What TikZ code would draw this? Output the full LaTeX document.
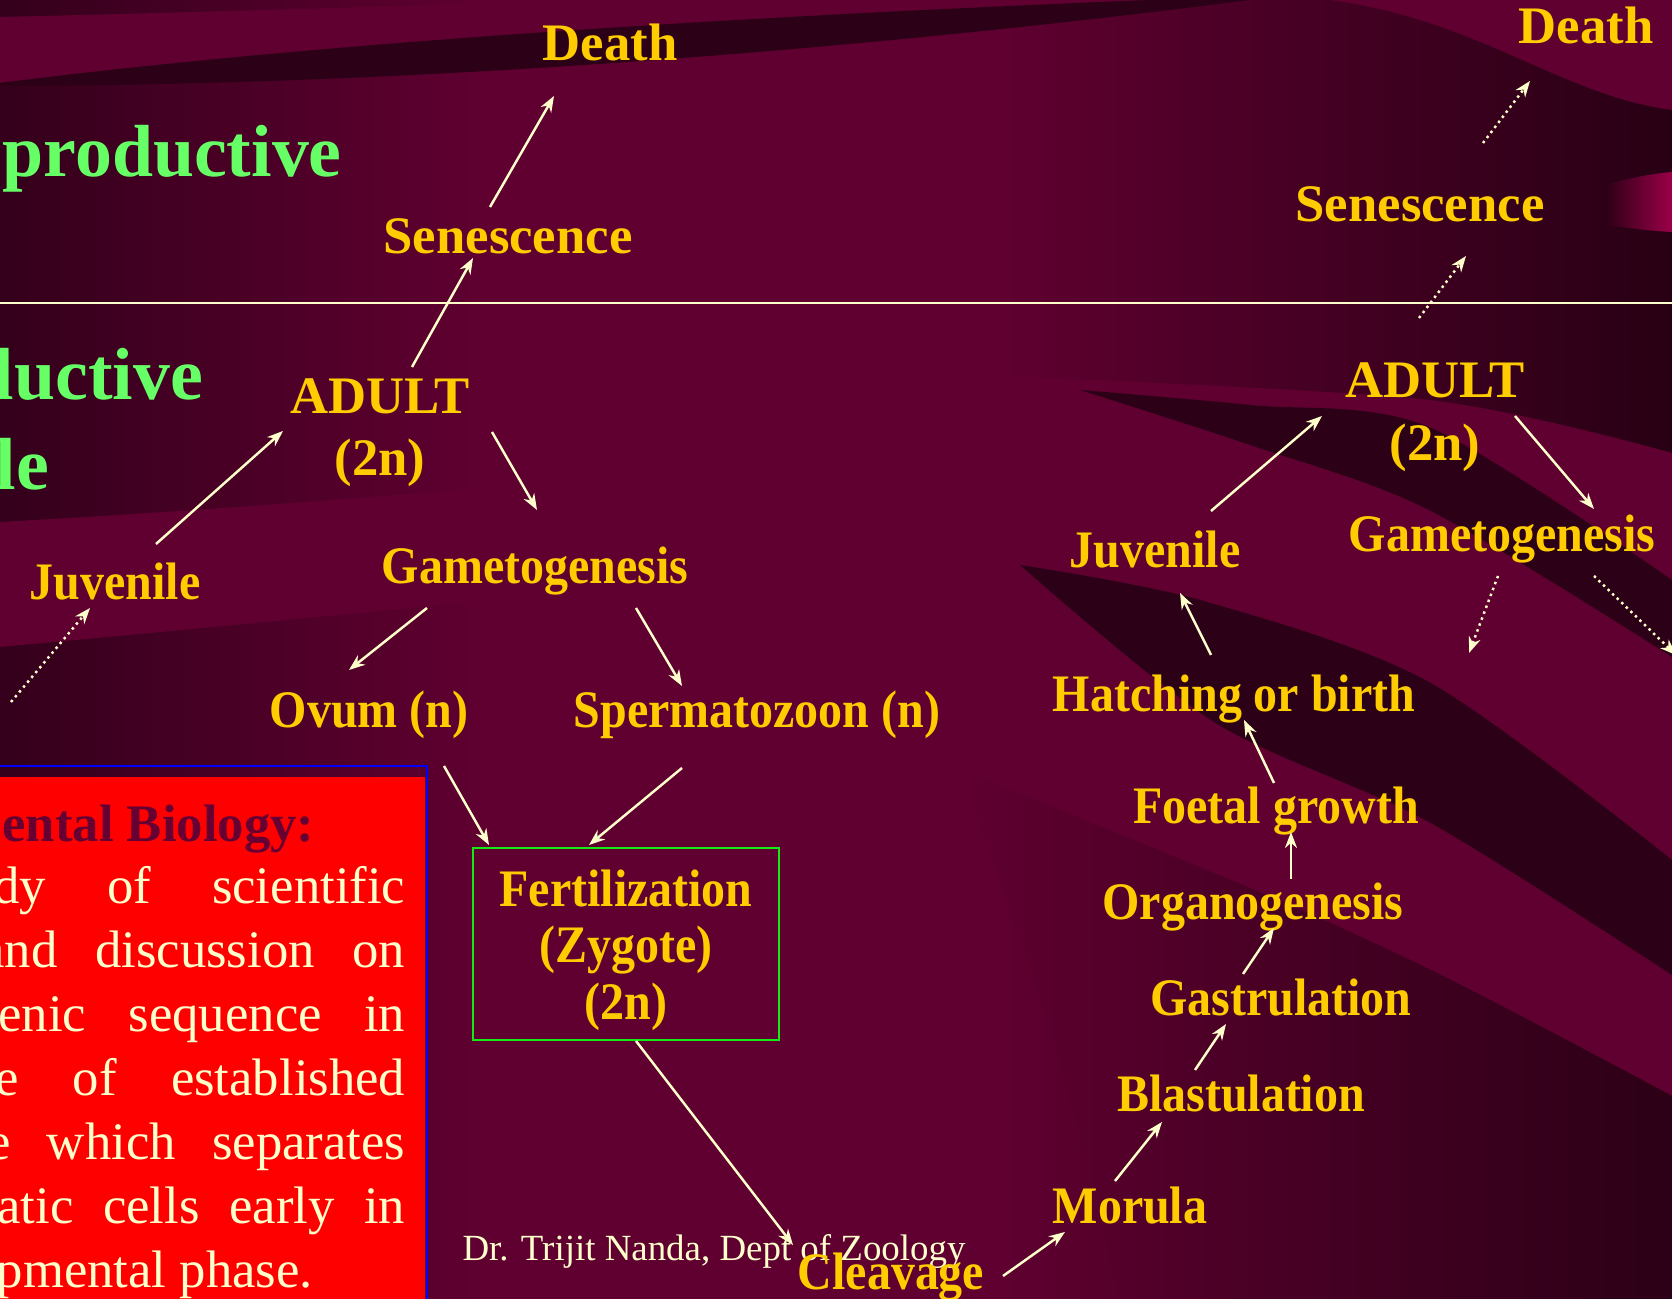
\documentclass[tikz,border=0pt]{standalone}
\usepackage{fontspec}
\setmainfont{Liberation Serif}
\newfontfamily\narrowserif[FakeStretch=0.91]{Liberation Serif}
\usetikzlibrary{arrows.meta, positioning}
\definecolor{bgleft}{RGB}{52,0,27}
\definecolor{bgmid}{RGB}{95,0,48}
\definecolor{bgright}{RGB}{40,0,20}
\definecolor{bgdark}{RGB}{44,0,22}
\definecolor{bglight}{RGB}{95,0,48}
\definecolor{bgmagenta}{RGB}{155,0,72}
\definecolor{labgold}{RGB}{255,204,0}
\definecolor{arrowcream}{RGB}{255,255,204}
\definecolor{titlegreen}{RGB}{102,255,102}
\definecolor{boxgreen}{RGB}{20,235,20}
\definecolor{notered}{RGB}{255,0,0}
\definecolor{noteblue}{RGB}{0,0,255}
\definecolor{notehead}{RGB}{102,0,51}
\tikzset{
  lab/.style={text=labgold, font=\bfseries\fontsize{15}{18}\selectfont, inner sep=0pt, anchor=base},
  labn/.style={lab, font=\narrowserif\bfseries\fontsize{15}{18}\selectfont},
  fertbox/.style={draw=boxgreen, line width=0.7pt, text=labgold, align=center,
    font=\narrowserif\bfseries\fontsize{15}{16.2}\selectfont,
    minimum width=30.6mm, minimum height=19.2mm, inner sep=0pt},
  phase/.style={text=titlegreen, font=\bfseries\fontsize{21}{25}\selectfont, inner sep=0pt, anchor=base west},
  note/.style={text=arrowcream, font=\fontsize{15}{18}\selectfont, inner sep=0pt, anchor=base east},
  notehd/.style={text=notehead, font=\bfseries\fontsize{15}{18}\selectfont, inner sep=0pt, anchor=base east},
  foot/.style={text=arrowcream, font=\fontsize{10.5}{12}\selectfont, inner sep=0pt, anchor=base},
  arr/.style={-{Stealth[length=1.6mm,width=1.2mm]}, arrowcream, line width=0.7pt},
  dotarr/.style={arr, dash pattern=on 0.7pt off 1.1pt}
}
\begin{document}
\begin{tikzpicture}[x=0.1mm, y=-0.1mm]
  \useasboundingbox (0,0) rectangle (1672,1299);
  % background swooshes
  \fill[bgmid] (0,0) rectangle (1672,1299);
  \shade[left color=bgleft, right color=bgmid] (0,0) rectangle (480,1299);
  \shade[left color=bgmid, right color=bgright] (1000,0) rectangle (1672,1299);
  \fill[bglight] (0,17) .. controls (300,10) and (550,0) .. (700,0) -- (1150,0)
    .. controls (700,18) and (300,45) .. (0,83) -- cycle;
  \fill[bgdark] (0,83) .. controls (300,45) and (700,18) .. (1150,0) -- (1250,0)
    .. controls (900,45) and (450,85) .. (0,86) -- cycle;
  \fill[bglight] (1330,0) .. controls (1480,20) and (1560,95) .. (1672,110) -- (1672,0) -- cycle;
  \shade[left color=bgdark, right color=bgmagenta] (1605,185) .. controls (1630,178) and (1650,174) .. (1672,172)
    -- (1672,232) .. controls (1650,231) and (1630,228) .. (1605,225) -- cycle;
  \fill[bglight] (0,522) .. controls (400,500) and (800,460) .. (1100,430)
    -- (1100,540) .. controls (800,570) and (400,610) .. (0,647) -- cycle;
  \fill[bglight] plot[smooth] coordinates {(1000,376) (1429,400) (1672,453)}
    -- plot[smooth] coordinates {(1672,1096) (1429,969) (1214,873) (1000,800)} -- cycle;
  \fill[bgdark] plot[smooth] coordinates {(1080,390) (1250,405) (1429,427) (1672,580)}
    -- plot[smooth] coordinates {(1672,657) (1429,510) (1250,445) (1080,390)} -- cycle;
  \fill[bgdark] plot[smooth] coordinates {(1020,565) (1200,600) (1429,682) (1672,860)}
    -- plot[smooth] coordinates {(1672,975) (1429,822) (1214,722) (1020,565)} -- cycle;
  \shade[left color=bgmid, right color=bgdark] plot[smooth] coordinates {(960,770) (1214,873) (1429,969) (1672,1096)}
    -- (1672,1299) -- (1120,1299) .. controls (1060,1050) .. (960,770) -- cycle;
  % phase divider
  \draw[arrowcream, line width=0.6pt] (0,303) -- (1672,303);
  % phase titles
  \node[phase] (phaseA) at (2,177) {productive};
  \node[phase] (phaseB) at (-7,400) {luctive};
  \node[phase] (phaseC) at (-5,490) {le};
  % definition box
  \fill[notered] (0,777) rectangle (425,1299);
  \draw[noteblue, line width=0.5pt] (-5,766) -- (427,766) -- (427,1305);
  \node[notehd] (devhead) at (315,842) {ental Biology:};
  \node[note] (defa) at (406,904) {\hbox to 41.2mm{dy\hfill of\hfill scientific}};
  \node[note] (defb) at (406,968) {\hbox to 42.4mm{and\hfill discussion\hfill on}};
  \node[note] (defc) at (406,1032) {\hbox to 40.7mm{enic\hfill sequence\hfill in}};
  \node[note] (defd) at (406,1096) {\hbox to 41.0mm{e\hfill of\hfill established}};
  \node[note] (defe) at (406,1160) {\hbox to 41.8mm{e\hfill which\hfill separates}};
  \node[note] (deff) at (406,1224) {\hbox to 40.8mm{atic\hfill cells\hfill early\hfill in}};
  \node[note, anchor=base west] (defg) at (-4,1288) {pmental phase.};
  % footer
  \node[foot] (credit) at (714,1261) {Dr. Trijit Nanda, Dept of Zoology};
  % left cycle
  \node[lab] (deathL) at (610,61) {Death};
  \node[lab] (senL) at (508,254) {Senescence};
  \node[lab] (adultL) at (380,414) {ADULT};
  \node[lab] (ploidyL) at (380,476) {(2n)};
  \node[labn] (juvL) at (115,600) {Juvenile};
  \node[labn] (gameL) at (535,584) {Gametogenesis};
  \node[labn] (ovum) at (369,728) {Ovum (n)};
  \node[labn] (sperm) at (757,728) {Spermatozoon (n)};
  \node[fertbox] (fert) at (626,944) {\rule{0pt}{14pt}Fertilization\\(Zygote)\\(2n)};
  \node[labn] (cleav) at (891,1290) {Cleavage};
  % right cycle
  \node[labn] (morula) at (1130,1224) {Morula};
  \node[labn] (blast) at (1241,1112) {Blastulation};
  \node[labn] (gast) at (1281,1016) {Gastrulation};
  \node[labn] (organ) at (1253,920) {Organogenesis};
  \node[labn] (foetal) at (1276,824) {Foetal growth};
  \node[labn] (hatch) at (1234,712) {Hatching or birth};
  \node[labn] (juvR) at (1155,568) {Juvenile};
  \node[lab] (adultR) at (1435,398) {ADULT};
  \node[lab] (ploidyR) at (1435,461) {(2n)};
  \node[labn] (gameR) at (1502,552) {Gametogenesis};
  \node[lab] (senR) at (1420,222) {Senescence};
  \node[lab] (deathR) at (1586,44) {Death};
  \coordinate (gameRa) at (1469,653);
  \coordinate (gameRb) at (1676,655);
  \coordinate (juvLin) at (11,702);
  % connectors
  \draw[arr] ([shift={(-18,-47)}]senL.base) -- ([shift={(-56,35)}]deathL.base);
  \draw[arr] ([shift={(32,-47)}]adultL.base) -- ([shift={(-35,4)}]senL.base);
  \draw[arr] ([shift={(41,-56)}]juvL.base) -- ([shift={(-97,17)}]adultL.base);
  \draw[arr] ([shift={(112,18)}]adultL.base) -- ([shift={(2,-74)}]gameL.base);
  \draw[arr] ([shift={(-108,24)}]gameL.base) -- ([shift={(-20,-58)}]ovum.base);
  \draw[arr] ([shift={(101,24)}]gameL.base) -- ([shift={(-75,-42)}]sperm.base);
  \draw[arr] ([shift={(75,38)}]ovum.base) -- ([shift={(-137,-99)}]fert.center);
  \draw[arr] ([shift={(-75,40)}]sperm.base) -- ([shift={(-37,-99)}]fert.center);
  \draw[arr] ([shift={(10,97)}]fert.center) -- ([shift={(-98,-45)}]cleav.base);
  \draw[arr] ([shift={(112,-14)}]cleav.base) -- ([shift={(-65,8)}]morula.base);
  \draw[arr] ([shift={(-15,-43)}]morula.base) -- ([shift={(-79,10)}]blast.base);
  \draw[arr] ([shift={(-46,-42)}]blast.base) -- ([shift={(-55,8)}]gast.base);
  \draw[arr] ([shift={(-38,-42)}]gast.base) -- ([shift={(21,8)}]organ.base);
  \draw[arr] ([shift={(38,-41)}]organ.base) -- ([shift={(15,8)}]foetal.base);
  \draw[arr] ([shift={(-2,-41)}]foetal.base) -- ([shift={(10,8)}]hatch.base);
  \draw[arr] ([shift={(-23,-57)}]hatch.base) -- ([shift={(25,25)}]juvR.base);
  \draw[arr] ([shift={(56,-57)}]juvR.base) -- ([shift={(-113,18)}]adultR.base);
  \draw[arr] ([shift={(80,18)}]adultR.base) -- ([shift={(92,-43)}]gameR.base);
  \draw[dotarr] ([shift={(-16,-80)}]adultR.base) -- ([shift={(46,34)}]senR.base);
  \draw[dotarr] ([shift={(63,-79)}]senR.base) -- ([shift={(-56,37)}]deathR.base);
  \draw[dotarr] ([shift={(-4,24)}]gameR.base) -- (gameRa);
  \draw[dotarr] ([shift={(92,24)}]gameR.base) -- (gameRb);
  \draw[dotarr] (juvLin) -- ([shift={(-25,8)}]juvL.base);
\end{tikzpicture}
\end{document}
